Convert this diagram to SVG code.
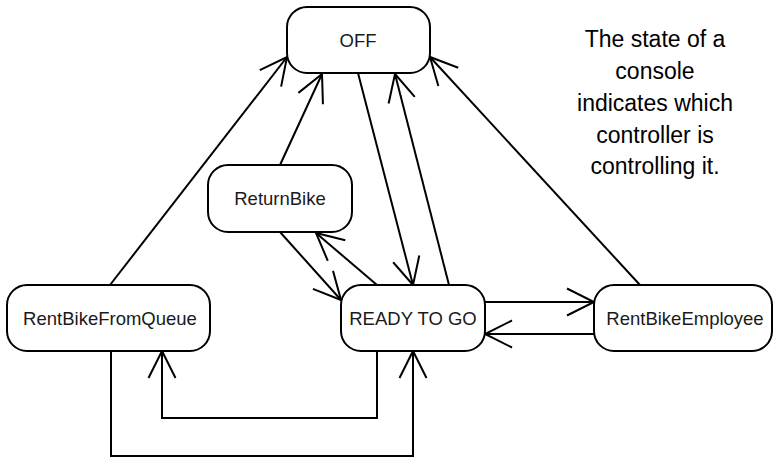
<svg xmlns="http://www.w3.org/2000/svg" width="775" height="458" viewBox="0 0 775 458">
  <style>
    .box { fill: #ffffff; stroke: #000000; stroke-width: 2; }
    .lbl { font-family: "Liberation Sans", Arial, sans-serif; font-size: 18.5px; fill: #1a1a1a; text-anchor: middle; }
    .note { font-family: "Liberation Sans", Arial, sans-serif; font-size: 23px; fill: #000000; text-anchor: middle; }
    .edge { fill: none; stroke: #000000; stroke-width: 2; marker-end: url(#open); }
  </style>
  <defs>
    <marker id="open" markerUnits="userSpaceOnUse" viewBox="-30 -16 32 32" refX="0" refY="0" markerWidth="32" markerHeight="32" orient="auto" overflow="visible">
      <path d="M-27,-13.5 L0,0 L-27,13.5" fill="none" stroke="#000000" stroke-width="2"/>
    </marker>
  </defs>

  <!-- transitions -->
  <g id="connectors">
    <path class="edge" d="M110,285 L287,57"/>
    <path class="edge" d="M280,165 L322,74"/>
    <path class="edge" d="M358,73 L413,285"/>
    <path class="edge" d="M449,285 L395,74"/>
    <path class="edge" d="M640,285 L430,57"/>
    <path class="edge" d="M280,232 L341,300"/>
    <path class="edge" d="M377,285 L316,233"/>
    <path class="edge" d="M485,302 L594,302"/>
    <path class="edge" d="M594,334 L485,334"/>
    <path class="edge" d="M377,351 L377,418 L162,418 L162,351"/>
    <path class="edge" d="M111,351 L111,456 L413,456 L413,351"/>
  </g>

  <!-- states -->
  <g id="off">
    <rect class="box" x="287" y="7" width="143" height="66" rx="20"/>
    <text class="lbl" x="358" y="47">OFF</text>
  </g>
  <g id="return-bike">
    <rect class="box" x="208" y="165" width="144" height="67" rx="20"/>
    <text class="lbl" x="280" y="205">ReturnBike</text>
  </g>
  <g id="rent-bike-from-queue">
    <rect class="box" x="7" y="285" width="203" height="66" rx="20"/>
    <text class="lbl" x="110" y="325">RentBikeFromQueue</text>
  </g>
  <g id="ready-to-go">
    <rect class="box" x="341" y="285" width="144" height="66" rx="20"/>
    <text class="lbl" x="413" y="325">READY TO GO</text>
  </g>
  <g id="rent-bike-employee">
    <rect class="box" x="594" y="285" width="178" height="66" rx="20"/>
    <text class="lbl" x="685" y="325">RentBikeEmployee</text>
  </g>

  <!-- note -->
  <text class="note" x="655" y="47">The state of a</text>
  <text class="note" x="655" y="79">console</text>
  <text class="note" x="655" y="111">indicates which</text>
  <text class="note" x="655" y="143">controller is</text>
  <text class="note" x="655" y="174">controlling it.</text>
</svg>
